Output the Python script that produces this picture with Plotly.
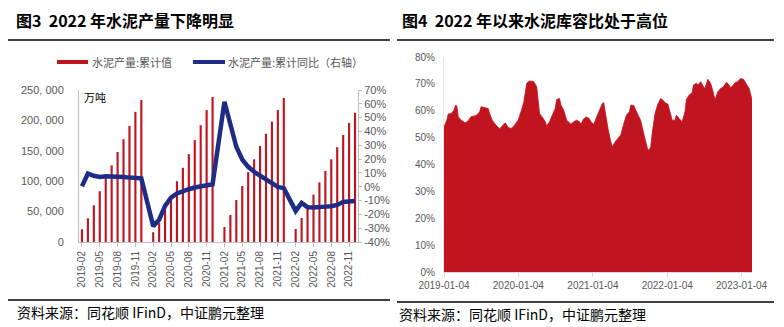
import pandas as pd
import plotly.graph_objects as go

# ---------------- 图3: 水泥产量（累计值 / 累计同比） ----------------
months = [f"{y}-{m:02d}" for y in range(2019, 2023) for m in range(1, 13)][1:]  # 2019-02 … 2022-12
report_months = [m for m in months if not m.endswith("-01")]  # 1月与2月合并公布

# 累计值（万吨），每年 02…12
output_cum = [
    20900, 39000, 60400, 83500, 105000, 126000, 148000, 169000, 191000, 214000, 233500,
    16000, 31000, 52700, 76000, 100000, 122000, 144500, 167600, 192000, 217000, 238500,
    24700, 44500, 69000, 92000, 115000, 136000, 158000, 178000, 198000, 217000, 237000,
    21400, 39600, 56000, 78000, 98000, 117000, 136000, 156000, 176000, 196000, 212600,
]
# 累计同比（%）
output_yoy = [
    0.4, 9.5, 7.9, 7.1, 7.5, 7.6, 7.4, 7.1, 6.6, 6.6, 6.1,
    -28.5, -23.9, -13.9, -7.9, -4.9, -3.0, -1.8, -0.6, 0.4, 1.1, 1.8,
    61.5, 45.8, 28.9, 19.7, 14.4, 10.8, 8.3, 5.4, 2.8, -0.1, -1.0,
    -17.5, -11.7, -14.8, -15.0, -15.0, -14.4, -14.1, -13.2, -11.0, -10.5, -10.3,
]
month_ticks = ["2019-02", "2019-05", "2019-08", "2019-11", "2020-02", "2020-05", "2020-08", "2020-11",
               "2021-02", "2021-05", "2021-08", "2021-11", "2022-02", "2022-05", "2022-08", "2022-11"]
left_ticks = [0, 50000, 100000, 150000, 200000, 250000]
left_ticktext = ["0", "50, 000", "100, 000", "150, 000", "200, 000", "250, 000"]
right_ticks = [-40, -30, -20, -10, 0, 10, 20, 30, 40, 50, 60, 70]
right_ticktext = [f"{v}%" for v in right_ticks]

# ---------------- 图4: 水泥库容比（周度, %） ----------------
week_no = [
    0, 2, 3, 5, 7, 8, 9, 10, 12, 15, 17, 19, 21, 23, 25, 26, 29, 31, 32, 34,
    37, 39, 40, 43, 45, 47, 49, 50, 52, 54, 56, 58, 60, 63, 65, 66, 67, 70, 71,
    72, 74, 76, 78, 79, 81, 82, 84, 86, 89, 91, 93, 95, 96, 98, 100, 102, 103, 105, 107,
    109, 111, 112, 113, 115, 117, 118, 120, 122, 124, 126, 128, 130, 131, 133, 135, 137, 138, 140, 142, 143,
    144, 145, 146, 148, 150, 152, 154, 155, 157, 159, 160, 162, 163, 165, 167, 169, 170, 172, 174, 175,
    177, 178, 180, 182, 183, 185, 187, 189, 190, 192, 194, 196, 198, 199, 201, 203, 204, 206, 208, 210,
    212, 214, 216,
]
storage_ratio = [
    54.0, 56.5, 58.8, 59.0, 60.2, 62.0, 61.8, 57.8, 56.5, 55.5, 56.3, 57.8, 58.0, 58.4, 59.6, 61.5, 61.1, 60.8, 59.0, 56.3,
    54.3, 53.3, 53.8, 55.5, 53.8, 53.4, 54.3, 55.0, 56.5, 59.6, 63.3, 70.2, 71.1, 70.8, 68.9, 64.0, 59.0, 56.8, 55.9,
    54.3, 55.9, 58.4, 60.8, 64.2, 64.6, 62.1, 60.2, 56.5, 55.0, 55.9, 56.5, 55.9, 55.0, 57.0, 57.7, 57.0, 55.9, 55.0, 57.7,
    60.2, 62.7, 63.0, 59.6, 53.4, 48.4, 46.6, 48.4, 49.7, 51.0, 55.0, 58.4, 59.6, 62.1, 62.0, 59.6, 57.0, 56.3, 51.6, 46.6, 45.3,
    45.6, 46.6, 51.6, 59.0, 62.5, 64.6, 63.7, 63.0, 62.5, 58.4, 56.5, 56.5, 58.4, 57.0, 55.9, 59.6, 64.2, 65.9, 66.7, 69.6,
    70.2, 69.6, 70.8, 68.9, 68.3, 71.7, 70.2, 66.5, 64.0, 67.0, 68.3, 68.9, 70.5, 70.2, 68.6, 69.6, 70.4, 70.8, 72.0, 71.7,
    70.2, 68.3, 64.0,
]
start_date = pd.Timestamp("2019-01-04")
week_dates = [start_date + pd.Timedelta(days=7 * w) for w in week_no]
date_ticks = ["2019-01-04", "2020-01-04", "2021-01-04", "2022-01-04", "2023-01-04"]
ratio_ticks = [0, 10, 20, 30, 40, 50, 60, 70, 80]

# ---------------- styling ----------------
W, H = 784, 327
RED = "#C0141F"
NAVY = "#1F2C85"
GREY_TXT = "#595959"
AXIS = "#BFBFBF"
CJK = "Noto Sans CJK SC"
LAT = "Liberation Sans"


def px(x):
    return x / W


def py(y):
    return 1 - y / H


fig = go.Figure()
fig.add_trace(go.Bar(x=report_months, y=output_cum, marker=dict(color=RED, line=dict(width=0)),
                     name="水泥产量:累计值", xaxis="x", yaxis="y", showlegend=False))
fig.add_trace(go.Scatter(x=report_months, y=output_yoy, mode="lines", line=dict(color=NAVY, width=4.5),
                         name="水泥产量:累计同比（右轴）", xaxis="x", yaxis="y2", showlegend=False))
fig.add_trace(go.Scatter(x=week_dates, y=storage_ratio, mode="lines", fill="tozeroy",
                         line=dict(color=RED, width=0.8), fillcolor=RED,
                         xaxis="x2", yaxis="y3", showlegend=False))

tickfont = dict(family=LAT, size=11, color=GREY_TXT)
fig.update_layout(
    width=W, height=H, autosize=False, showlegend=False,
    margin=dict(l=0, r=0, t=0, b=0, pad=0, autoexpand=False),
    paper_bgcolor="white", plot_bgcolor="white",
    bargap=0.64,
    xaxis=dict(domain=[px(79), px(358)], anchor="y", type="category", automargin=False,
               categoryorder="array", categoryarray=months, range=[-0.5, len(months) - 0.5],
               tickmode="array", tickvals=month_ticks, ticktext=month_ticks, tickangle=-90,
               tickfont=dict(family=LAT, size=10, color=GREY_TXT),
               showline=True, linecolor=AXIS, linewidth=1, ticks="outside", ticklen=4,
               tickcolor=AXIS, showgrid=False, zeroline=False),
    yaxis=dict(domain=[py(242), py(90)], anchor="x", range=[0, 250000], automargin=False,
               tickmode="array", tickvals=left_ticks, ticktext=left_ticktext, tickfont=tickfont,
               showline=True, linecolor=AXIS, linewidth=1, showgrid=False, zeroline=False,
               ticks="", ticklabelstandoff=12),
    yaxis2=dict(overlaying="y", anchor="x", side="right", range=[-40, 70], automargin=False,
                tickmode="array", tickvals=right_ticks, ticktext=right_ticktext, tickfont=tickfont,
                showline=True, linecolor=AXIS, linewidth=1, showgrid=False, zeroline=False,
                ticks="outside", ticklen=3, tickcolor=AXIS),
    xaxis2=dict(domain=[px(444), px(752)], anchor="y3", type="date", automargin=False,
                range=[start_date, start_date + pd.Timedelta(days=7 * 216)],
                tickmode="array", tickvals=date_ticks, ticktext=date_ticks, tickangle=0,
                tickfont=dict(family=LAT, size=10, color=GREY_TXT),
                showline=True, linecolor="#D9D9D9", linewidth=1, ticks="outside", ticklen=4,
                tickcolor="#D9D9D9", showgrid=False, zeroline=False),
    yaxis3=dict(domain=[py(272), py(57)], anchor="x2", range=[0, 80], automargin=False,
                tickmode="array", tickvals=ratio_ticks, ticktext=[f"{v}%" for v in ratio_ticks],
                tickfont=dict(family=LAT, size=10, color=GREY_TXT),
                showline=True, linecolor="#E5E5E5", linewidth=1, showgrid=False, zeroline=False,
                ticks="", ticklabelstandoff=6),
)

# titles, rules and source notes
fig.add_annotation(text="<b>图3  2022 年水泥产量下降明显</b>", x=px(14), y=py(20), xref="paper", yref="paper",
                   xanchor="left", yanchor="middle", showarrow=False,
                   font=dict(family=CJK, size=16, color="black"))
fig.add_annotation(text="<b>图4  2022 年以来水泥库容比处于高位</b>", x=px(400), y=py(20), xref="paper", yref="paper",
                   xanchor="left", yanchor="middle", showarrow=False,
                   font=dict(family=CJK, size=16, color="black"))
fig.add_annotation(text="资料来源：同花顺 IFinD，中证鹏元整理", x=px(15), y=py(312), xref="paper", yref="paper",
                   xanchor="left", yanchor="middle", showarrow=False,
                   font=dict(family=CJK, size=14, color="black"))
fig.add_annotation(text="资料来源：同花顺 IFinD，中证鹏元整理", x=px(397), y=py(314), xref="paper", yref="paper",
                   xanchor="left", yanchor="middle", showarrow=False,
                   font=dict(family=CJK, size=14, color="black"))
for x0, x1, y in [(8, 390, 40), (397, 774, 40), (8, 390, 300), (397, 774, 302)]:
    fig.add_shape(type="line", xref="paper", yref="paper", x0=px(x0), x1=px(x1), y0=py(y), y1=py(y),
                  line=dict(color="black", width=1.5))

# legend for 图3
fig.add_shape(type="line", xref="paper", yref="paper", x0=px(57), x1=px(88), y0=py(62), y1=py(62),
              line=dict(color=RED, width=4))
fig.add_annotation(text="水泥产量:累计值", x=px(90), y=py(62), xref="paper", yref="paper",
                   xanchor="left", yanchor="middle", showarrow=False,
                   font=dict(family=CJK, size=11, color=GREY_TXT))
fig.add_shape(type="line", xref="paper", yref="paper", x0=px(193), x1=px(225), y0=py(62), y1=py(62),
              line=dict(color=NAVY, width=4))
fig.add_annotation(text="水泥产量:累计同比（右轴）", x=px(226), y=py(62), xref="paper", yref="paper",
                   xanchor="left", yanchor="middle", showarrow=False,
                   font=dict(family=CJK, size=11, color=GREY_TXT))
fig.add_annotation(text="万吨", x=px(82), y=py(97), xref="paper", yref="paper",
                   xanchor="left", yanchor="middle", showarrow=False,
                   font=dict(family=CJK, size=11, color="black"))

fig.write_html("out.html")
